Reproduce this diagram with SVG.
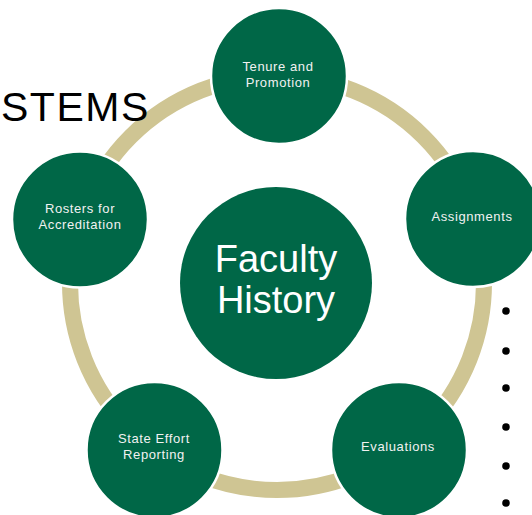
<svg xmlns="http://www.w3.org/2000/svg" width="532" height="515" viewBox="0 0 532 515">
<style>
.node{fill:#006747;stroke:#ffffff;stroke-width:2.5}
.lbl{font-family:"Liberation Sans",Arial,sans-serif;font-size:13px;letter-spacing:0.6px;fill:#f2f2f2;text-anchor:middle}
.big{font-family:"Liberation Sans",Arial,sans-serif;font-size:38px;fill:#ffffff;text-anchor:middle}
.ring{fill:none;stroke:#cfc593;stroke-width:16}
</style>
<rect width="532" height="515" fill="#ffffff"/>
<g id="connectors">
<circle class="ring" cx="277" cy="283" r="207"/>
</g>
<text x="1" y="121" font-family="'Liberation Sans',Arial,sans-serif" font-size="41" letter-spacing="1.5" fill="#000000">STEMS</text>
<g id="center">
<circle cx="276" cy="283" r="96" fill="#006747"/>
<text class="big" x="276" y="272">Faculty</text>
<text class="big" x="276" y="313">History</text>
</g>
<g id="tenure">
<circle class="node" cx="279" cy="76" r="68"/>
<text class="lbl" x="278" y="71">Tenure and</text>
<text class="lbl" x="278" y="87">Promotion</text>
</g>
<g id="assignments">
<circle class="node" cx="473" cy="219" r="68"/>
<text class="lbl" x="472" y="221">Assignments</text>
</g>
<g id="evaluations">
<circle class="node" cx="399" cy="450" r="68"/>
<text class="lbl" x="398" y="451">Evaluations</text>
</g>
<g id="state-effort">
<circle class="node" cx="154.5" cy="450" r="68"/>
<text class="lbl" x="154" y="443">State Effort</text>
<text class="lbl" x="154" y="459">Reporting</text>
</g>
<g id="rosters">
<circle class="node" cx="80" cy="219.5" r="68"/>
<text class="lbl" x="80" y="213">Rosters for</text>
<text class="lbl" x="80" y="229">Accreditation</text>
</g>
<g id="bullets" fill="#000000">
<circle cx="506" cy="311" r="3.8"/>
<circle cx="506" cy="351" r="3.8"/>
<circle cx="506" cy="388" r="3.8"/>
<circle cx="506" cy="427" r="3.8"/>
<circle cx="506" cy="466" r="3.8"/>
<circle cx="506" cy="503" r="3.8"/>
</g>
</svg>
